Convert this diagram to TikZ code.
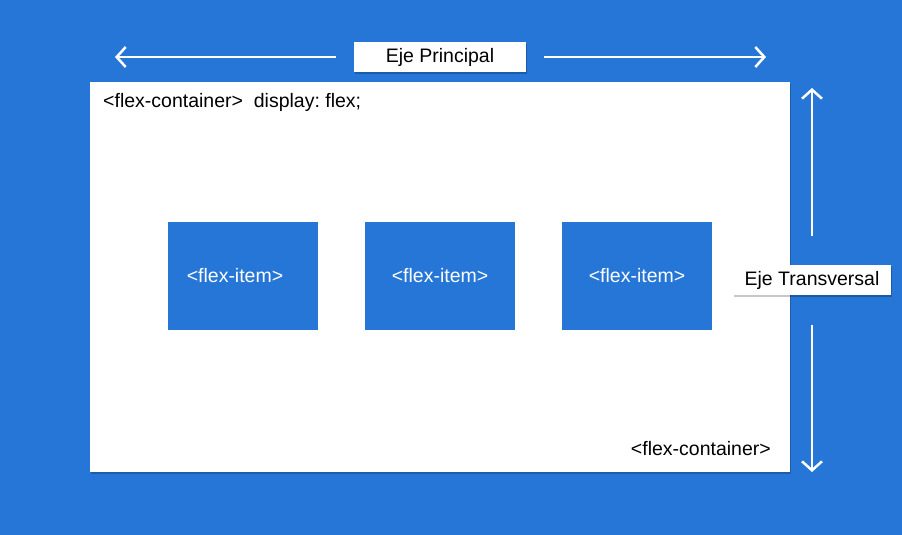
\documentclass[tikz,border=0pt]{standalone}
\usepackage{fontspec}
\setmainfont{Liberation Sans}
\usetikzlibrary{arrows.meta,shadows}
\definecolor{flexblue}{RGB}{37,118,214}
\frenchspacing
\begin{document}
\begin{tikzpicture}[x=1pt,y=-1pt,
  panel/.style={fill=white, draw=none,
    drop shadow={shadow xshift=1pt, shadow yshift=-2pt, opacity=0.2, fill=black}},
  tag/.style={fill=white, draw=none, inner sep=0pt, font=\fontsize{19.5}{22}\selectfont,
    drop shadow={shadow xshift=1pt, shadow yshift=-2pt, opacity=0.22, fill=black}},
  itembox/.style={fill=flexblue, draw=none, inner sep=0pt, minimum width=150pt, minimum height=108pt},
  itemtext/.style={text=white, font=\fontsize{19.5}{22}\selectfont, inner sep=0pt},
  codetext/.style={text=black, font=\fontsize{19.5}{22}\selectfont, inner sep=0pt},
  axis/.style={draw=white, line width=2.5pt, -{Straight Barb[length=9pt,width=20pt,line width=2.5pt]}}]
  % background
  \fill[flexblue] (0,0) rectangle (902,535);
  \useasboundingbox (0,0) rectangle (902,535);

  % the flex container
  \path[panel] (90,82) rectangle (790,472);
  \node[codetext, anchor=west] (head) at (103,102) {<flex-container>\ \ display: flex;};
  \node[codetext, anchor=east] (foot) at (771,449) {<flex-container>};

  % flex items
  \node[itembox] (i1) at (243,276) {};
  \node[itembox] (i2) at (440,276) {};
  \node[itembox] (i3) at (637,276) {};
  \node[itemtext] at (235,276) {<flex-item>};
  \node[itemtext] at (i2) {<flex-item>};
  \node[itemtext] at (i3) {<flex-item>};

  % main axis
  \node[tag, minimum width=172pt, minimum height=30pt] (main) at (440,57) {Eje Principal};
  \coordinate (mainL) at (115,57);
  \coordinate (mainR) at (766,57);
  \draw[axis] ([xshift=-18pt]main.west) -- (mainL);
  \draw[axis] ([xshift=18pt]main.east) -- (mainR);

  % cross axis
  \node[tag, minimum width=158pt, minimum height=30pt] (cross) at (812,280) {Eje Transversal};
  \coordinate (crossT) at (812,88);
  \coordinate (crossB) at (812,472);
  \draw[axis] ([yshift=29pt]cross.north) -- (crossT);
  \draw[axis] ([yshift=-30pt]cross.south) -- (crossB);
\end{tikzpicture}
\end{document}
